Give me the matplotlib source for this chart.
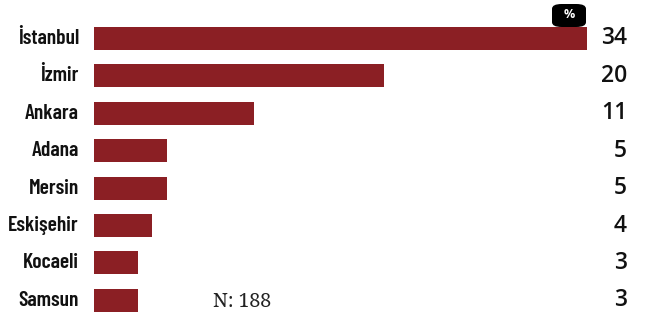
import matplotlib
matplotlib.use('Agg')
import matplotlib.pyplot as plt
from matplotlib.patches import FancyBboxPatch

# data
cities = ['İstanbul', 'İzmir', 'Ankara', 'Adana', 'Mersin', 'Eskişehir', 'Kocaeli', 'Samsun']
values = [34, 20, 11, 5, 5, 4, 3, 3]
note = 'N: 188'

W, H = 646, 318
fig = plt.figure(figsize=(W / 100, H / 100), dpi=100)

# axes placed in pixels: bars start at x=94, 34 reaches x=587
step = 37.4
top_px = 38.5 - step / 2
ax = fig.add_axes([94 / W, 1 - (top_px + 8 * step) / H, (587 - 94) / W, 8 * step / H])
ax.set_xlim(0, 34)
ax.set_ylim(7.5, -0.5)
ax.axis('off')

bar_color = '#8b1f24'
ypos = list(range(len(cities)))
ax.barh(ypos, values, height=23 / step, color=bar_color)

name_font = ['Barlow Condensed', 'Liberation Sans Narrow', 'DejaVu Sans']
num_font = ['Open Sans', 'DejaVu Sans']
for y, c, v in zip(ypos, cities, values):
    ax.annotate(c, xy=(0, y), xycoords='data', xytext=(-15, 0), textcoords='offset pixels',
                ha='right', va='center', fontsize=15.5, fontweight=600,
                family=name_font, color='#111111')
    ax.annotate(str(v), xy=(1, y), xycoords=('axes fraction', 'data'), xytext=(40, 0),
                textcoords='offset pixels', ha='right', va='center', fontsize=16.5,
                fontweight=600, family=num_font, color='#111111')

# N note
fig.text(242 / W, 1 - 302 / H, note, ha='center', va='center', fontsize=14,
         family=['Noto Serif', 'Liberation Serif', 'DejaVu Serif'], color='#222222')

# % badge
badge = FancyBboxPatch((552 / W, 1 - 27 / H), 34 / W, 23 / H,
                       boxstyle='round,pad=0,rounding_size=0.015',
                       transform=fig.transFigure, facecolor='black', edgecolor='none')
fig.patches.append(badge)
fig.text(569 / W, 1 - 15 / H, '%', ha='center', va='center', fontsize=9,
         fontweight='bold', color='white', family=num_font)

fig.savefig('out.png', dpi=100)
